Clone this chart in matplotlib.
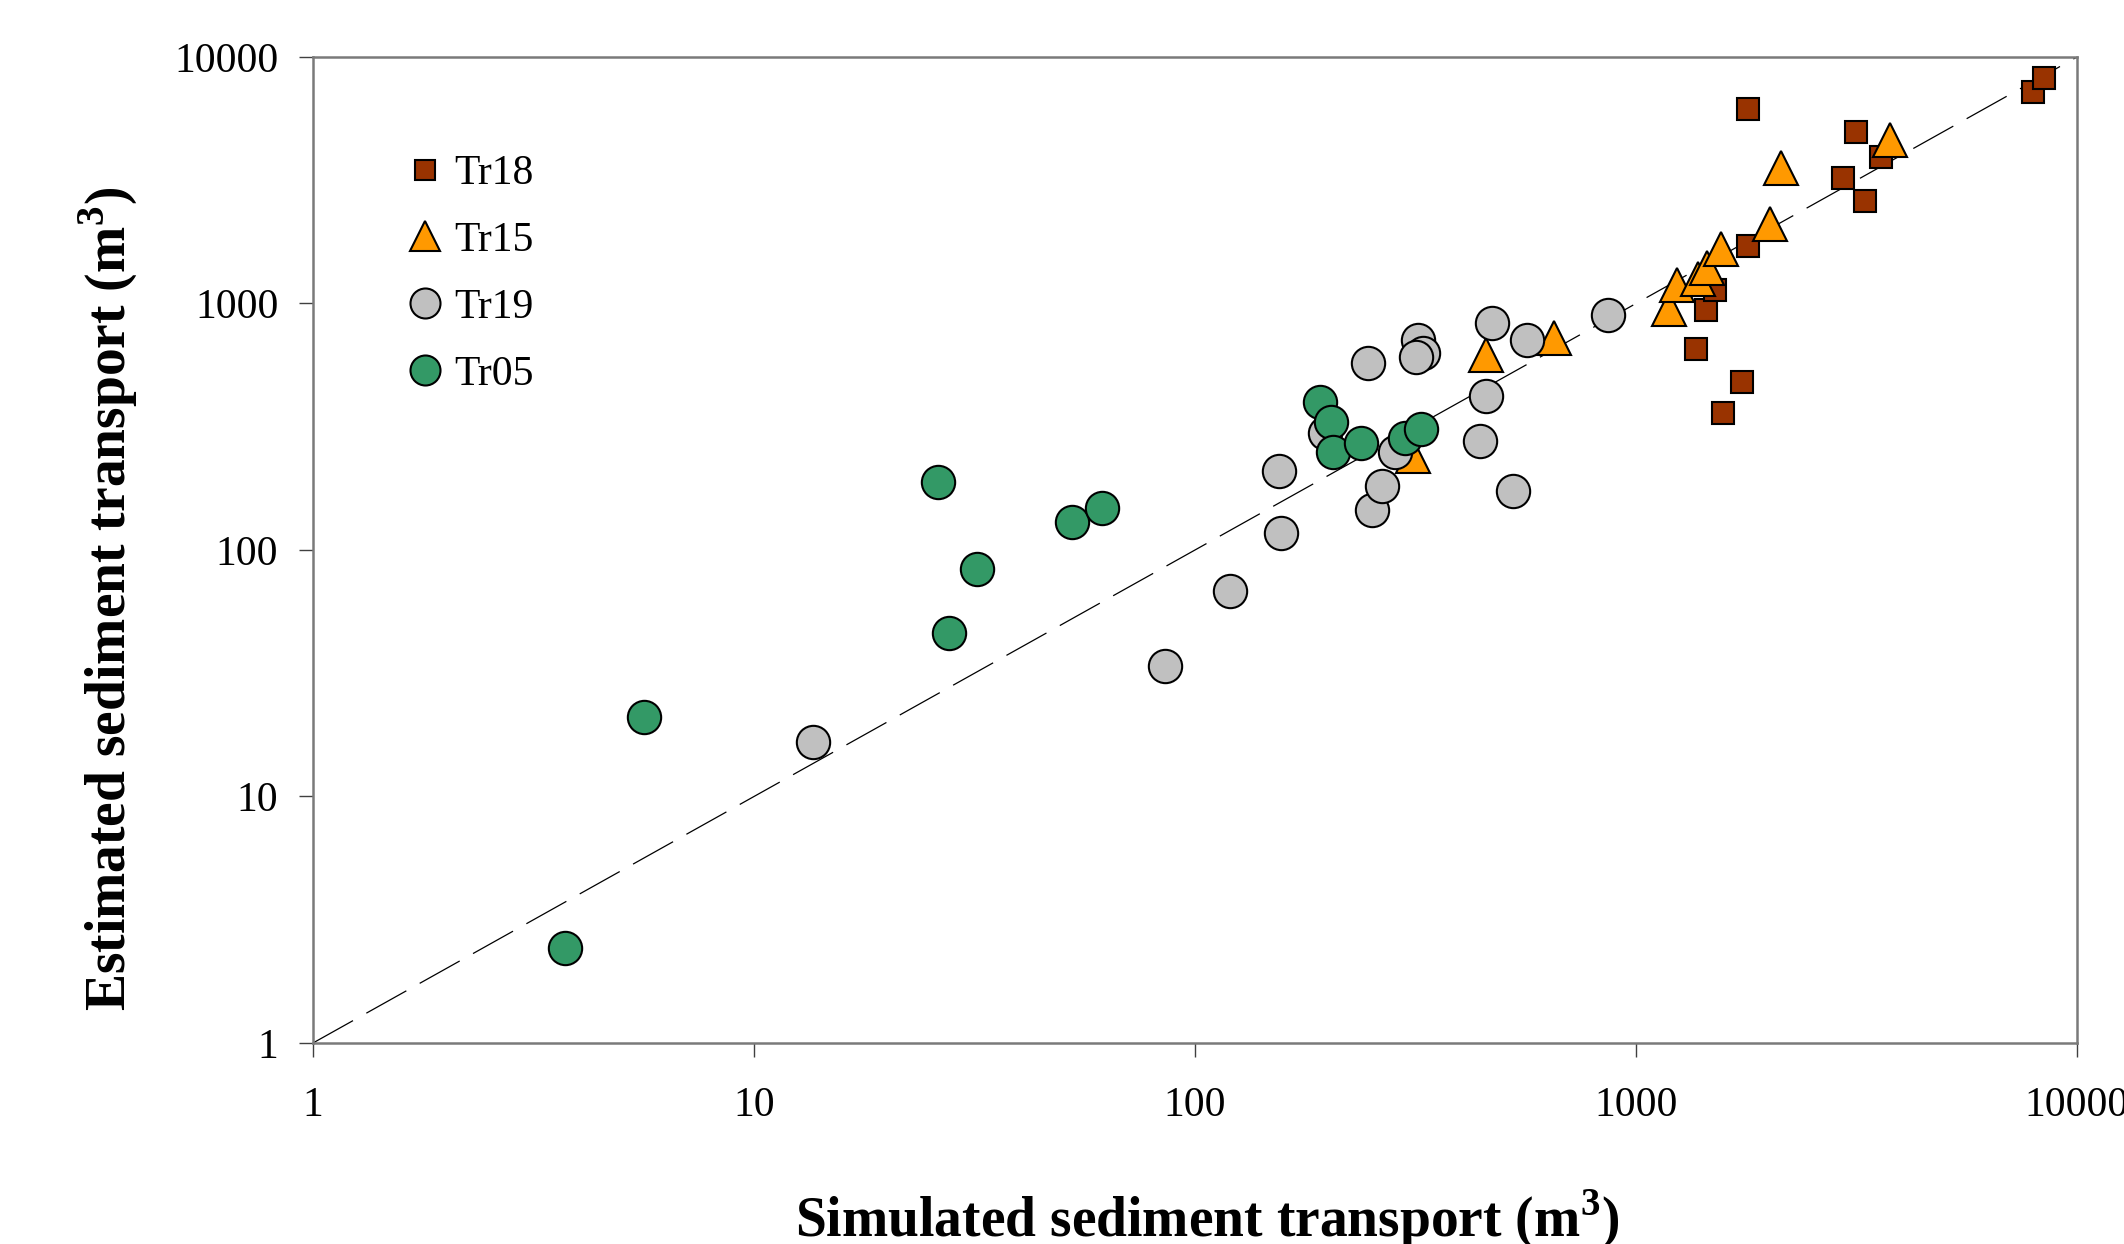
import matplotlib
matplotlib.use("Agg")
import matplotlib.pyplot as plt

plt.rcParams['font.family'] = ['Liberation Serif', 'DejaVu Serif']
plt.rcParams['mathtext.fontset'] = 'custom'
plt.rcParams['mathtext.rm'] = 'Liberation Serif'
plt.rcParams['mathtext.bf'] = 'Liberation Serif:bold'
plt.rcParams['lines.scale_dashes'] = False

# data (simulated, estimated), m3
tr18_sim = [1365, 1445, 1508, 1573, 1740, 1793, 1792, 2944, 3160, 3303, 3600, 7960, 8420]
tr18_est = [654, 942, 1135, 360, 479, 1716, 6140, 3220, 4980, 2605, 3940, 7190, 8200]

tr15_sim = [312, 457, 651, 1188, 1236, 1384, 1452, 1555, 2009, 2128, 3760]
tr15_est = [240, 620, 722, 950, 1189, 1254, 1390, 1664, 2108, 3535, 4610]

tr19_sim = [13.6, 85.5, 120, 155, 157, 197, 247, 252, 266, 284, 321, 329, 317,
            443, 457, 471, 527, 565, 866]
tr19_est = [16.7, 33.8, 68.2, 209, 117, 297, 575, 145, 182, 249, 711, 630, 604,
            277, 421, 831, 174, 711, 896]

tr05_sim = [3.73, 5.63, 26.2, 27.7, 32.0, 52.5, 61.4, 192, 203, 206, 238, 299, 326]
tr05_est = [2.44, 21.1, 188, 46.2, 83.7, 130, 148, 400, 331, 249, 271, 284, 310]

ticks = [1, 10, 100, 1000, 10000]
tick_labels = ['1', '10', '100', '1000', '10000']

fig = plt.figure(figsize=(21.24, 12.44), dpi=100)
ax = fig.add_axes([0.14736, 0.16158, 0.83051, 0.79260])

# 1:1 line
ax.plot([1, 10000], [1, 10000], color='black', lw=0.9, dashes=(33, 11), zorder=1)

ax.plot(tr18_sim, tr18_est, ls='none', marker='s', ms=16.5, mfc='#993300',
        mec='black', mew=1.5, label='Tr18', zorder=2)
ax.plot(tr15_sim, tr15_est, ls='none', marker='^', ms=24, mfc='#FF9900',
        mec='black', mew=1.5, label='Tr15', zorder=3)
ax.plot(tr19_sim, tr19_est, ls='none', marker='o', ms=24, mfc='#C0C0C0',
        mec='black', mew=1.5, label='Tr19', zorder=4)
ax.plot(tr05_sim, tr05_est, ls='none', marker='o', ms=24, mfc='#339966',
        mec='black', mew=1.5, label='Tr05', zorder=5)

ax.set_xscale('log')
ax.set_yscale('log')
ax.set_xlim(1, 10000)
ax.set_ylim(1, 10000)
ax.set_xticks(ticks)
ax.set_xticklabels(tick_labels)
ax.set_yticks(ticks)
ax.set_yticklabels(tick_labels)
ax.minorticks_off()
ax.tick_params(axis='both', which='major', direction='out', length=10, width=1,
               color='#404040', labelsize=30)
ax.tick_params(axis='x', pad=21)
ax.tick_params(axis='y', pad=15)

for s in ax.spines.values():
    s.set_color('#7a7a7a')
    s.set_linewidth(1.8)

ax.set_xlabel('Simulated sediment transport (m$^\\mathbf{3}$)', fontsize=40,
              fontweight='bold', va='baseline')
ax.xaxis.set_label_coords(0.507, -0.197)
ax.set_ylabel('Estimated sediment transport (m$^\\mathbf{3}$)', fontsize=40,
              fontweight='bold', va='center')
ax.yaxis.set_label_coords(-0.116, 0.45)

leg = ax.legend(loc='upper left', bbox_to_anchor=(0.054, 0.901), frameon=False,
                fontsize=30, handlelength=0.8, handletextpad=0.3,
                labelspacing=0.68, borderpad=0, borderaxespad=0, markerscale=0.9)

fig.savefig('out.png', dpi=100)
